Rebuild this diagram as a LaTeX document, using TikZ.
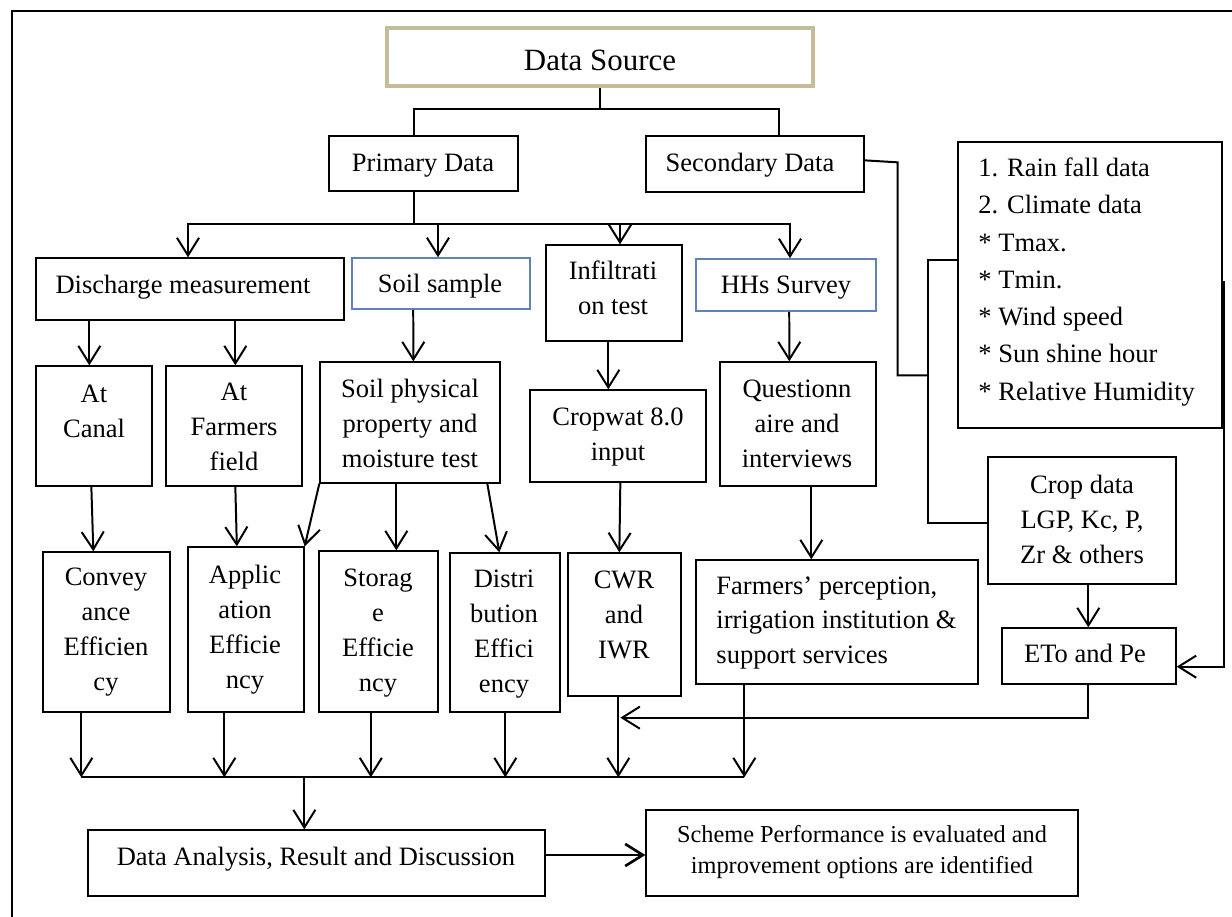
\documentclass[tikz,border=0pt]{standalone}
\usepackage{fontspec}
\setmainfont{Liberation Serif}
\usetikzlibrary{arrows.meta,calc,fit}
\definecolor{tanbd}{RGB}{196,189,151}
\definecolor{bluebd}{RGB}{95,130,185}
\begin{document}
\begin{tikzpicture}[x=0.4526pt,y=-0.4526pt,
  bx/.style={draw=black, line width=0.6pt, inner sep=0pt},
  bbx/.style={draw=bluebd, line width=0.7pt, inner sep=0pt},
  txt/.style={inner sep=0pt, align=center, font=\fontsize{12}{15.7}\selectfont},
  ln/.style={line width=0.9pt},
  arr/.style={line width=0.9pt, -{Straight Barb[length=8pt,width=10pt]}}
]
\useasboundingbox (0,0) rectangle (1232,917);
\begin{scope}
  \clip (0,0) rectangle (1232,917);
  \draw[line width=1.2pt] (12,11) rectangle (1260,950);
\end{scope}

% ---------- boxes (text nodes anchored at the baseline of their last line) ----------
\node[draw=tanbd, line width=2pt, inner sep=0pt, fit={(387,28)(813,86)}] (ds) {};
\node[txt, font=\fontsize{14}{17}\selectfont, anchor=base] (dst) at (600,70) {Data Source};

\node[bx, fit={(329,136)(518,191)}] (pd) {};
\node[txt, anchor=base] (pdt0) at (423,171) {Primary Data};
\node[bx, fit={(646,136)(864,192)}] (sd) {};
\node[txt, anchor=base] (sdt0) at (750,171) {Secondary Data};

\node[bx, fit={(36,258)(344,320)}] (dm) {};
\node[txt, anchor=base] (dmt) at (183,293) {Discharge measurement};
\node[bbx, fit={(352,258)(530,309)}] (ss) {};
\node[txt, anchor=base] (sst) at (440,292) {Soil sample};
\node[bx, fit={(546,245)(682,341)}] (it) {};
\node[txt, anchor=base] (itt) at (613,314) {Infiltrati\\on test};
\node[bbx, fit={(696,259)(876,311)}] (hh) {};
\node[txt, anchor=base] (hht) at (786,293) {HHs Survey};

\node[bx, fit={(36,366)(152,486)}] (ac) {};
\node[txt, anchor=base] (act) at (94,437) {At\\Canal};
\node[bx, fit={(166,366)(302,486)}] (af) {};
\node[txt, anchor=base] (aft) at (234,470) {At\\Farmers\\field};
\node[bx, fit={(320,362)(500,483)}] (sp) {};
\node[txt, anchor=base] (spt) at (410,467) {Soil physical\\property and\\moisture test};
\node[bx, fit={(530,390)(706,482)}] (cw) {};
\node[txt, anchor=base] (cwt) at (618,460) {Cropwat 8.0\\input};
\node[bx, fit={(720,362)(876,486)}] (qa) {};
\node[txt, anchor=base] (qat) at (797,467) {Questionn\\aire and\\interviews};

\node[bx, fit={(958,142)(1222,428)}] (cl) {};
\node[txt, align=left, anchor=base west, font=\fontsize{12}{16.85}\selectfont] (clt) at (978,400)
  {1. Rain fall data\\2. Climate data\\* Tmax.\\* Tmin.\\* Wind speed\\* Sun shine hour\\* Relative Humidity};
\node[bx, fit={(988,457)(1176,584)}] (cd) {};
\node[txt, anchor=base] (cdt) at (1082,563) {Crop data\\LGP, Kc, P,\\Zr \& others};
\node[bx, fit={(1002,628)(1176,684)}] (et) {};
\node[txt, anchor=base] (ett) at (1085,662) {ETo and Pe};

\node[bx, fit={(43,552)(170,712)}] (ce) {};
\node[txt, anchor=base] (cet) at (106,690) {Convey\\ance\\Efficien\\cy};
\node[bx, fit={(188,547)(304,712)}] (ae) {};
\node[txt, anchor=base] (aet) at (245,688) {Applic\\ation\\Efficie\\ncy};
\node[bx, fit={(319,551)(438,712)}] (se) {};
\node[txt, anchor=base] (set) at (378,691) {Storag\\e\\Efficie\\ncy};
\node[bx, fit={(450,553)(560,712)}] (de) {};
\node[txt, anchor=base] (det) at (504,692) {Distri\\bution\\Effici\\ency};
\node[bx, fit={(568,553)(681,696)}] (cr) {};
\node[txt, anchor=base] (crt) at (624,658) {CWR\\and\\IWR};
\node[bx, fit={(696,560)(978,684)}] (fp) {};
\node[txt, align=left, anchor=base west, font=\fontsize{12}{15.4}\selectfont] (fpt) at (716,663)
  {Farmers’ perception,\\irrigation institution \&\\support services};

\node[bx, fit={(88,830)(545,896)}] (da) {};
\node[txt, anchor=base] (dat) at (316,865) {Data Analysis, Result and Discussion};
\node[bx, fit={(646,810)(1078,896)}] (sc) {};
\node[txt, anchor=base, font=\fontsize{11}{14}\selectfont] (sct) at (862,873)
  {Scheme Performance is evaluated and\\improvement options are identified};

% ---------- connectors ----------
\coordinate (j0) at ($(ds.south)+(0,21)$);
\coordinate (pdtop) at ($(pd.north)+(-9.5,0)$);
\coordinate (sdtop) at ($(sd.north)+(24,0)$);
\draw[ln] (ds.south) -- (j0);
\draw[ln] (pdtop) |- (j0) -| (sdtop);

\coordinate (pdb) at ($(pd.south)+(-9.5,0)$);
\coordinate (j1) at ($(pdb)+(0,32)$);
\draw[ln] (pdb) -- (j1);
\draw[arr] (j1) -| ($(dm.north)+(-2,0)$);
\draw[arr] (j1) -| ($(ss.north)+(-3,0)$);
\draw[arr] (j1) -| ($(it.north)+(6,0)$);
\draw[arr] (j1) -| ($(hh.north)+(4,0)$);

\draw[arr] ($(dm.south west)+(54,0)$) -- ($(ac.north west)+(54,0)$);
\draw[arr] ($(dm.south west)+(200,0)$) -- ($(af.north west)+(70,0)$);
\draw[arr] ($(ss.south west)+(62,0)$) -- ($(sp.north west)+(94,0)$);
\draw[arr] ($(it.south west)+(63,0)$) -- ($(cw.north west)+(79,0)$);
\draw[arr] ($(hh.south west)+(94,0)$) -- ($(qa.north west)+(70,0)$);

\draw[arr] ($(ac.south west)+(56,0)$) -- ($(ce.north west)+(51,0)$);
\draw[arr] ($(af.south west)+(70,0)$) -- ($(ae.north west)+(49.5,0)$);
\draw[arr] (sp.south west) -- (ae.north east);
\draw[arr] ($(sp.south west)+(77,0)$) -- ($(se.north west)+(78,0)$);
\draw[arr] ($(sp.south west)+(168,0)$) -- ($(de.north west)+(50,0)$);
\draw[arr] ($(cw.south west)+(91,0)$) -- ($(cr.north west)+(52,0)$);
\draw[arr] ($(qa.south west)+(92,0)$) -- ($(fp.north west)+(116,0)$);

% right side
\draw[ln] ($(sd.north east)+(0,25)$) -- ++(33,2) |- ($(cl.north west)+(-29,234)$);
\coordinate (clw) at ($(cl.north west)+(0,119)$);
\coordinate (cdw) at ($(cd.north west)+(0,67)$);
\draw[ln] (clw) -- ++(-29,0) |- (cdw);
\draw[arr] ($(cl.north east)+(1,140)$) |- ($(et.south east)+(0,-18)$);
\draw[arr] ($(cd.south west)+(101,0)$) -- ($(et.north west)+(87,0)$);
\coordinate (cwx) at ($(cr.south west)+(53,21)$);
\draw[arr] ($(et.south west)+(87,0)$) |- (cwx);

% bottom bus
\coordinate (bus) at ($(da.north west)+(217,-52)$);
\coordinate (a1) at ($(ce.south west)+(39,0)$);
\coordinate (a2) at ($(ae.south west)+(37,0)$);
\coordinate (a3) at ($(se.south west)+(52.5,0)$);
\coordinate (a4) at ($(de.south west)+(56,0)$);
\coordinate (a5) at ($(cr.south west)+(51,0)$);
\coordinate (a6) at ($(fp.south west)+(49,0)$);
\foreach \a in {a1,a2,a3,a4,a5,a6} {\draw[arr] (\a) -- (\a |- bus);}
\draw[ln] (a1 |- bus) -- (a6 |- bus);
\draw[arr] (bus) -- (bus |- da.north);
\draw[arr, line width=1.2pt] ($(da.east)+(0,-8)$) -- ($(sc.west)+(0,2)$);
\end{tikzpicture}
\end{document}
